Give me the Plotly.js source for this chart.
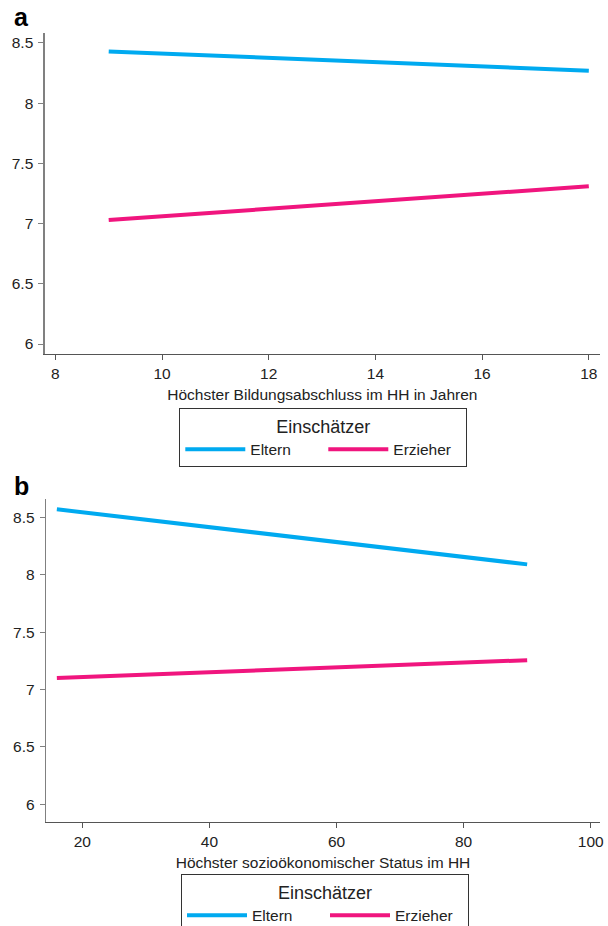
<!DOCTYPE html>
<html>
<head>
<meta charset="utf-8">
<script src="https://cdn.plot.ly/plotly-3.0.1.min.js"></script>
<style>html,body{margin:0;padding:0;background:#fff;overflow:hidden}#chart{width:608px;height:926px}</style>
</head>
<body>
<div id="chart"></div>
<script>
// Panel a: Höchster Bildungsabschluss im HH in Jahren
const xA = [9, 18];
const elternA = [8.43, 8.27];
const erzieherA = [7.03, 7.31];
// Panel b: Höchster sozioökonomischer Status im HH
const xB = [16, 90];
const elternB = [8.57, 8.09];
const erzieherB = [7.10, 7.255];
const seriesNames = ['Eltern', 'Erzieher'];
const panelLabels = ['a', 'b'];
const xTitles = ['Höchster Bildungsabschluss im HH in Jahren', 'Höchster sozioökonomischer Status im HH'];
const legendTitle = 'Einschätzer';
const yTicks = [6, 6.5, 7, 7.5, 8, 8.5];
const xTicksA = [8, 10, 12, 14, 16, 18];
const xTicksB = [20, 40, 60, 80, 100];

const cEltern = '#00aaf0';
const cErz = '#f0157e';
const FONT = 'Liberation Sans, Arial, sans-serif';
const W = 608, H = 926;
const px = v => v / W;
const py = v => (H - v) / H;

const traces = [
  {x: xA, y: elternA, name: seriesNames[0], mode: 'lines', line: {color: cEltern, width: 4}, xaxis: 'x', yaxis: 'y', legend: 'legend'},
  {x: xA, y: erzieherA, name: seriesNames[1], mode: 'lines', line: {color: cErz, width: 4}, xaxis: 'x', yaxis: 'y', legend: 'legend'},
  {x: xB, y: elternB, name: seriesNames[0], mode: 'lines', line: {color: cEltern, width: 4}, xaxis: 'x2', yaxis: 'y2', legend: 'legend2'},
  {x: xB, y: erzieherB, name: seriesNames[1], mode: 'lines', line: {color: cErz, width: 4}, xaxis: 'x2', yaxis: 'y2', legend: 'legend2'}
];

const tickFont = {family: FONT, size: 15.5, color: '#222'};
function xax(domain, range, ticks, title, anchor) {
  return {
    domain: domain, range: range, tickvals: ticks, ticktext: ticks.map(String),
    showline: true, linecolor: '#555', linewidth: 1.3, ticks: 'outside', ticklen: 5, tickcolor: '#555',
    showgrid: false, zeroline: false, tickfont: tickFont, anchor: anchor, fixedrange: true,
    title: {text: title, font: {family: FONT, size: 15.5, color: '#222'}, standoff: 8}
  };
}
function yax(domain, range, anchor) {
  return {
    domain: domain, range: range, tickvals: yTicks, ticktext: yTicks.map(String),
    showline: true, linecolor: '#808080', linewidth: 1.3, ticks: 'outside', ticklen: 5, tickcolor: '#808080',
    showgrid: false, zeroline: false, tickfont: tickFont, anchor: anchor, fixedrange: true,
    ticklabelstandoff: 2
  };
}
function leg(xLeft, yTop) {
  return {
    x: px(xLeft), xanchor: 'left', y: py(yTop), yanchor: 'top',
    orientation: 'h', bordercolor: '#333', borderwidth: 1, bgcolor: '#fff',
    font: {family: FONT, size: 15.5, color: '#222'},
    title: {text: legendTitle, side: 'top center', font: {family: FONT, size: 18, color: '#222'}},
    entrywidth: 68, itemwidth: 60, tracegroupgap: 0
  };
}

const layout = {
  width: W, height: H,
  margin: {l: 0, r: 0, t: 0, b: 0, autoexpand: false},
  paper_bgcolor: '#fff', plot_bgcolor: '#fff',
  font: {family: FONT},
  showlegend: true,
  xaxis: xax([px(44.7), px(600)], [7.80, 18.21], xTicksA, xTitles[0], 'y'),
  yaxis: yax([py(354), py(33)], [5.917, 8.583], 'x'),
  xaxis2: xax([px(46), px(600)], [14.29, 101.46], xTicksB, xTitles[1], 'y2'),
  yaxis2: yax([py(821.7), py(499.3)], [5.848, 8.657], 'x2'),
  legend: leg(179.3, 408.3),
  legend2: leg(181, 874.3),
  annotations: [
    {text: '<b>' + panelLabels[0] + '</b>', xref: 'paper', yref: 'paper', x: px(12), y: py(17), xanchor: 'left', yanchor: 'middle', showarrow: false, font: {family: FONT, size: 25, color: '#000'}},
    {text: '<b>' + panelLabels[1] + '</b>', xref: 'paper', yref: 'paper', x: px(12), y: py(486), xanchor: 'left', yanchor: 'middle', showarrow: false, font: {family: FONT, size: 25, color: '#000'}}
  ]
};

Plotly.newPlot('chart', traces, layout, {displayModeBar: false, staticPlot: true});
</script>
</body>
</html>
